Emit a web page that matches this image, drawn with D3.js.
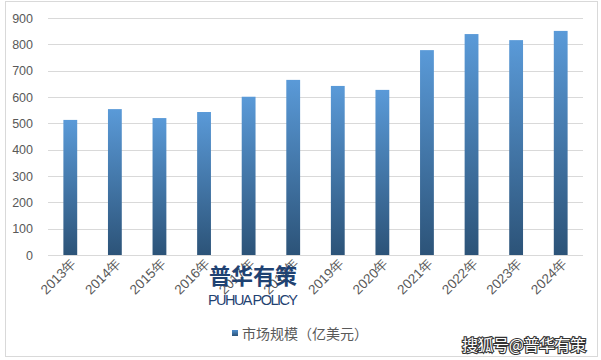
<!DOCTYPE html>
<html><head><meta charset="utf-8">
<script src="https://cdn.jsdelivr.net/npm/d3@7"></script>
<style>body{margin:0;background:#fff}svg{display:block}</style>
</head><body>
<svg id="c" width="601" height="360"></svg>
<script>
const categories = ["2013年","2014年","2015年","2016年","2017年","2018年","2019年","2020年","2021年","2022年","2023年","2024年"];
const values = [513,554,520,543,601,665,642,627,778,839,816,851];
const yTicks = [0,100,200,300,400,500,600,700,800,900];
const seriesName = "市场规模（亿美元）";

const svg = d3.select("#c");
const font = "'Liberation Sans', Arial, sans-serif";
// outer border
svg.append("rect").attr("x",5.5).attr("y",1.5).attr("width",592).attr("height",355)
  .attr("fill","#fff").attr("stroke","#d9d9d9");

const defs = svg.append("defs");
const g1 = defs.append("linearGradient").attr("id","bg").attr("x1",0).attr("y1",0).attr("x2",0).attr("y2",1);
g1.append("stop").attr("offset","0%").attr("stop-color","#5a9ad8");
g1.append("stop").attr("offset","100%").attr("stop-color","#2c5378");
const g2 = defs.append("linearGradient").attr("id","lg").attr("x1",0).attr("y1",0).attr("x2",0).attr("y2",1);
g2.append("stop").attr("offset","0%").attr("stop-color","#4f8fcf");
g2.append("stop").attr("offset","100%").attr("stop-color","#2c5378");

const x = d3.scaleBand().domain(categories).range([48,583]).paddingInner(0.69).paddingOuter(0.345);
const y = d3.scaleLinear().domain([0,900]).range([255,18]);

// gridlines
svg.append("g").selectAll("line").data(yTicks).join("line")
  .attr("x1",48).attr("x2",583).attr("y1",d=>Math.round(y(d))+0.5).attr("y2",d=>Math.round(y(d))+0.5)
  .attr("stroke","#d9d9d9").attr("stroke-width",1);

// y labels
svg.append("g").selectAll("text").data(yTicks).join("text")
  .attr("x",33).attr("y",d=>y(d)+4.5).attr("text-anchor","end")
  .attr("font-family",font).attr("font-size",12.5).attr("fill","#595959").text(d=>d);

// bars
svg.append("g").selectAll("rect").data(values).join("rect")
  .attr("x",(d,i)=>x(categories[i])).attr("width",x.bandwidth())
  .attr("y",d=>y(d)).attr("height",d=>y(0)-y(d)).attr("fill","url(#bg)");

// x labels
svg.append("g").selectAll("text").data(categories).join("text")
  .attr("transform",d=>`translate(${x(d)+x.bandwidth()/2+7},${264}) rotate(-45)`)
  .attr("text-anchor","end").attr("font-family",font).attr("font-size",13.5).attr("fill","#595959").text(d=>d);

// legend
svg.append("rect").attr("x",232).attr("y",330).attr("width",6).attr("height",6).attr("fill","url(#lg)");
svg.append("text").attr("x",242).attr("y",339).attr("font-family","'Noto Sans CJK SC', sans-serif")
  .attr("font-size",14).attr("fill","#595959").text(seriesName);

// watermarks
svg.append("text").attr("x",209).attr("y",284).attr("font-family","'Noto Sans CJK SC', sans-serif")
  .attr("font-weight","bold").attr("font-size",22).attr("fill","#1f4272").text("普华有策");
svg.append("text").attr("x",208).attr("y",305).attr("font-family","'Liberation Sans', sans-serif")
  .attr("font-size",14.5).attr("fill","#1f4272").attr("textLength",90).text("PUHUA POLICY");
svg.append("text").attr("x",462).attr("y",351).attr("font-family","'Noto Sans CJK SC', sans-serif")
  .attr("font-size",16).attr("fill","#fff").attr("stroke","#333").attr("stroke-width",2.2)
  .attr("paint-order","stroke").attr("textLength",124).text("搜狐号@普华有策");
</script>
</body></html>
